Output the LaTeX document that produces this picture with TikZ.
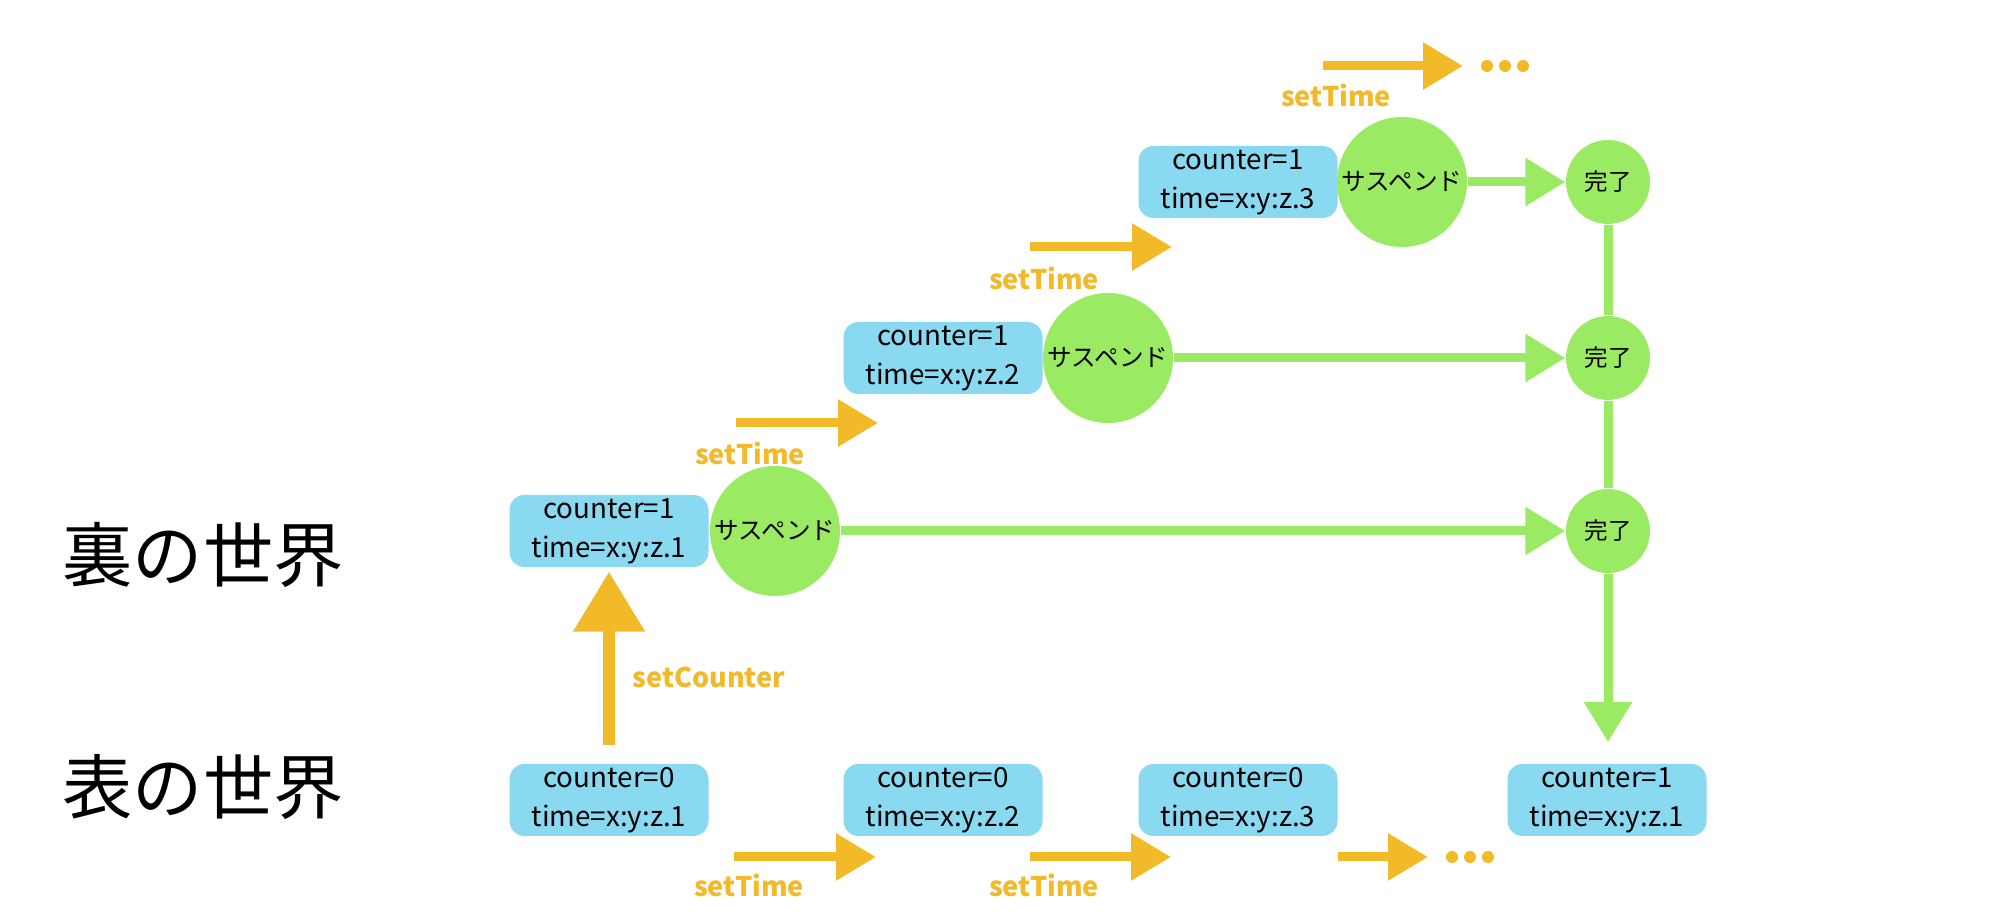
\documentclass[tikz,border=0pt]{standalone}
\usepackage{fontspec}
\setmainfont{Noto Sans CJK JP}
\usetikzlibrary{arrows.meta}
\definecolor{boxblue}{RGB}{137,217,241}
\definecolor{okgreen}{RGB}{154,235,99}
\definecolor{setorange}{RGB}{242,185,41}

\begin{document}
\begin{tikzpicture}[
  state/.style={fill=boxblue, rounded corners=0.15cm, minimum width=1.99cm, minimum height=0.72cm,
    inner sep=0pt, align=center, font=\fontsize{7.9}{11.1}\selectfont},
  susp/.style={circle, fill=okgreen, minimum size=1.3cm, inner sep=0pt, font=\fontsize{7}{8}\selectfont},
  done/.style={circle, fill=okgreen, minimum size=0.84cm, inner sep=0pt, font=\fontsize{6.7}{8}\selectfont},
  flow/.style={okgreen, line width=0.09cm, -{Triangle[length=0.4cm,width=0.46cm]}},
  settime/.style={setorange, line width=0.09cm, -{Triangle[length=0.4cm,width=0.45cm]}},
  oplabel/.style={text=setorange, font=\fontsize{7.7}{10}\selectfont\bfseries}
]
  \useasboundingbox (0,0) rectangle (19.92,9.24);

  \node[font=\fontsize{20}{24}\selectfont] (ura) at (2.03,3.69) {裏の世界};
  \node[font=\fontsize{20}{24}\selectfont] (omote) at (2.03,1.37) {表の世界};

  % ura
  \node[state] (u1) at (6.09,3.93) {counter=1\\time=x:y:z.1};
  \node[susp] (s1) at (7.75,3.93) {サスペンド};
  \node[done] (d1) at (16.08,3.93) {完了};
  \node[state] (u2) at (9.43,5.66) {counter=1\\time=x:y:z.2};
  \node[susp] (s2) at (11.08,5.66) {サスペンド};
  \node[done] (d2) at (16.08,5.66) {完了};
  \node[state] (u3) at (12.38,7.42) {counter=1\\time=x:y:z.3};
  \node[susp] (s3) at (14.02,7.42) {サスペンド};
  \node[done] (d3) at (16.08,7.42) {完了};

  % omote
  \node[state] (b1) at (6.09,1.24) {counter=0\\time=x:y:z.1};
  \node[state] (b2) at (9.43,1.24) {counter=0\\time=x:y:z.2};
  \node[state] (b3) at (12.38,1.24) {counter=0\\time=x:y:z.3};
  \node[state] (b4) at (16.07,1.24) {counter=1\\time=x:y:z.1};

  \draw[flow] (s1) -- (d1);
  \draw[flow] (s2) -- (d2);
  \draw[flow] (s3) -- (d3);
  \draw[okgreen, line width=0.09cm] (d3) -- (d2) -- (d1);
  \coordinate (endtip) at (16.08,1.82);
  \draw[flow] (d1) -- (endtip);

  \draw[setorange, line width=0.12cm, -{Triangle[length=0.6cm,width=0.69cm]},
    shorten <=0.18cm, shorten >=0.04cm] (b1) -- (u1);
  \node[oplabel, anchor=west] (setc) at (6.20,2.47) {setCounter};

  \coordinate (t1a) at (7.34,0.67);  \coordinate (t1b) at (8.76,0.67);
  \coordinate (t2a) at (10.30,0.67); \coordinate (t2b) at (11.71,0.67);
  \coordinate (t3a) at (13.38,0.67); \coordinate (t3b) at (14.28,0.67);
  \coordinate (t4a) at (7.36,5.01);  \coordinate (t4b) at (8.78,5.01);
  \coordinate (t5a) at (10.30,6.77); \coordinate (t5b) at (11.72,6.77);
  \coordinate (t6a) at (13.23,8.58); \coordinate (t6b) at (14.63,8.58);
  \draw[settime] (t1a) -- (t1b);
  \draw[settime] (t2a) -- (t2b);
  \draw[settime] (t3a) -- (t3b);
  \draw[settime] (t4a) -- (t4b);
  \draw[settime] (t5a) -- (t5b);
  \draw[settime] (t6a) -- (t6b);
  \node[oplabel] (l1) at (7.49,0.39) {setTime};
  \node[oplabel] (l2) at (10.44,0.39) {setTime};
  \node[oplabel] (l4) at (7.50,4.71) {setTime};
  \node[oplabel] (l5) at (10.44,6.46) {setTime};
  \node[oplabel] (l6) at (13.36,8.29) {setTime};

  \fill[setorange] (14.52,0.67) circle (0.06) (14.70,0.67) circle (0.06) (14.88,0.67) circle (0.06);
  \fill[setorange] (14.87,8.58) circle (0.06) (15.05,8.58) circle (0.06) (15.23,8.58) circle (0.06);
\end{tikzpicture}
\end{document}
